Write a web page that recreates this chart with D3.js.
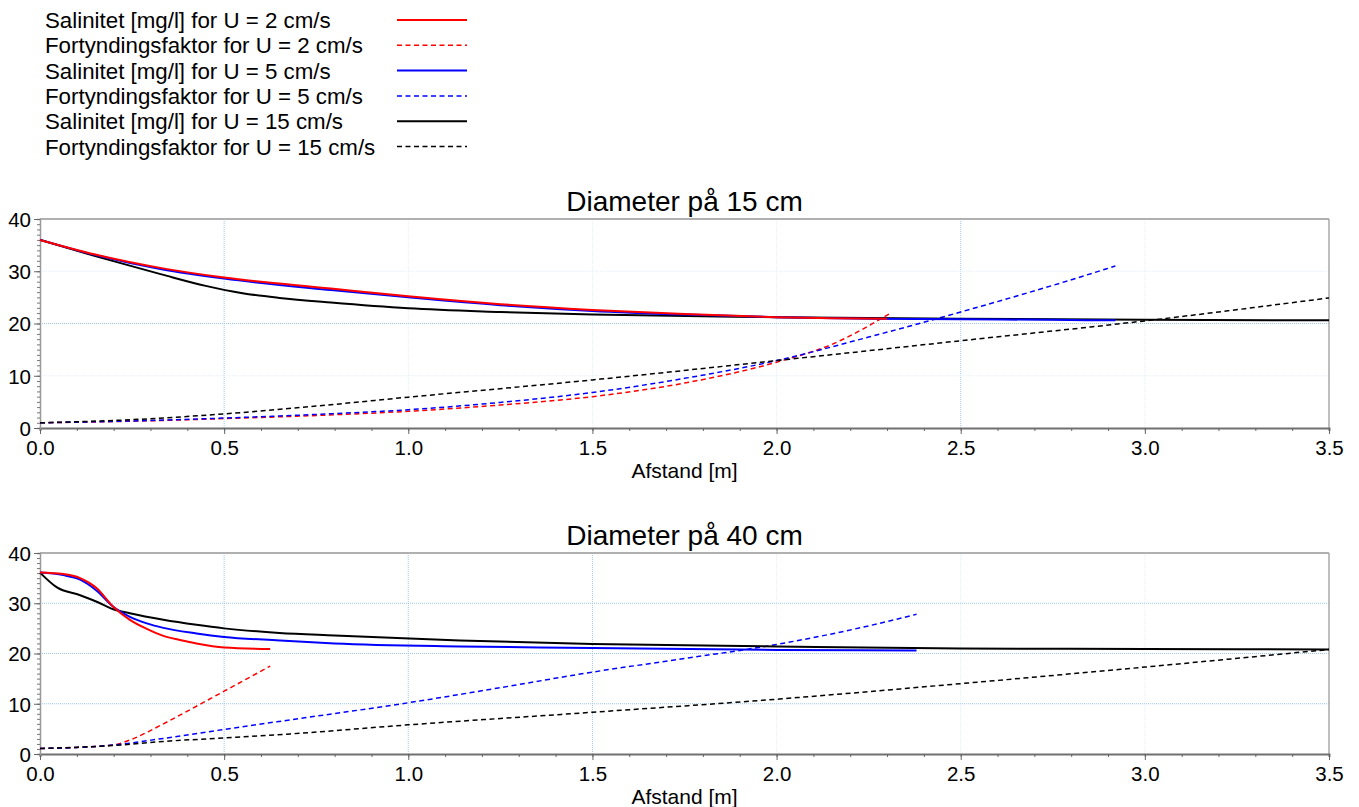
<!DOCTYPE html>
<meta charset="utf-8">
<style>
body{
	margin:0;
	background:#fff;
	font-family:"Liberation Sans",Arial,helvetica;
}
</style>
<script src="https://cdn.jsdelivr.net/npm/d3@7"></script>
<div id="chart"></div>
<script>

// legend labels
var legendLabels = ["Salinitet [mg/l] for U = 2 cm/s","Fortyndingsfaktor for U = 2 cm/s",
	"Salinitet [mg/l] for U = 5 cm/s","Fortyndingsfaktor for U = 5 cm/s",
	"Salinitet [mg/l] for U = 15 cm/s","Fortyndingsfaktor for U = 15 cm/s"]
var titles = ["Diameter på 15 cm","Diameter på 40 cm"]
var xTicks = [0,0.5,1,1.5,2,2.5,3,3.5]
var yTicks = [0,10,20,30,40]

// diameter 15 cm  [afstand, value]
var sal2_15 = [[0,36],[0.15,33.2],[0.33,30.6],[0.5,28.8],[0.79,26.7],[1.0,25.2],[1.25,23.7],[1.5,22.6],[1.75,21.8],[2.0,21.2],[2.15,21.0],[2.3,20.9]]
var fort2_15 = [[0,1.0],[0.25,1.3],[0.5,1.8],[0.75,2.4],[1.0,3.2],[1.25,4.4],[1.5,6.0],[1.75,8.6],[2.0,12.6],[2.15,16.0],[2.31,22.0]]
var sal5_15 = [[0,36],[0.15,33.1],[0.33,30.4],[0.5,28.6],[0.79,26.4],[1.0,25.0],[1.25,23.5],[1.5,22.4],[1.75,21.7],[2.0,21.2],[2.25,20.9],[2.5,20.8],[2.75,20.7],[2.92,20.6]]
var fort5_15 = [[0,1.0],[0.25,1.35],[0.5,1.9],[0.75,2.6],[1.0,3.5],[1.25,4.9],[1.5,6.8],[1.75,9.5],[2.0,12.9],[2.25,17.4],[2.5,22.2],[2.75,27.3],[2.92,31.0]]
var sal15_15 = [[0,36],[0.15,32.9],[0.33,29.4],[0.45,27.2],[0.55,25.8],[0.65,24.9],[0.79,24.0],[1.0,22.9],[1.25,22.2],[1.5,21.7],[2.0,21.2],[2.5,20.9],[3.0,20.7],[3.5,20.6]]
var fort15_15 = [[0,1.0],[0.25,1.6],[0.5,2.7],[0.75,4.2],[1.0,5.9],[1.5,9.2],[2.0,12.9],[2.5,16.7],[3.0,20.5],[3.5,24.9]]

// diameter 40 cm
var sal2_40 = [[0,36.1],[0.063,35.8],[0.109,35.0],[0.154,33.0],[0.199,29.3],[0.244,26.7],[0.29,24.9],[0.335,23.5],[0.38,22.7],[0.425,22.0],[0.5,21.2],[0.625,20.9]]
var fort2_40 = [[0,1.1],[0.1,1.3],[0.2,1.8],[0.245,2.8],[0.29,4.3],[0.335,6.0],[0.5,12.5],[0.625,17.5]]
var sal5_40 = [[0,36.1],[0.063,35.6],[0.109,34.7],[0.154,32.5],[0.199,29.3],[0.244,27.3],[0.29,26.0],[0.335,25.1],[0.425,24.0],[0.5,23.3],[0.65,22.6],[0.8,22.0],[1.14,21.4],[1.5,21.1],[2.0,20.7],[2.38,20.6]]
var fort5_40 = [[0,1.1],[0.1,1.3],[0.2,1.8],[0.335,3.1],[0.5,4.9],[0.68,6.8],[1.0,10.2],[1.25,13.2],[1.5,16.3],[1.75,19.0],[2.0,21.8],[2.25,25.5],[2.38,27.8]]
var sal15_40 = [[0,36.1],[0.045,33.2],[0.109,31.6],[0.154,30.3],[0.199,28.8],[0.244,28.0],[0.335,26.7],[0.425,25.7],[0.5,25.0],[0.65,24.1],[0.8,23.6],[1.14,22.6],[1.5,21.9],[2.0,21.4],[2.5,21.0],[3.0,20.9],[3.5,20.8]]
var fort15_40 = [[0,1.1],[0.2,1.7],[0.335,2.5],[0.5,3.2],[0.68,4.0],[1.0,5.8],[1.5,8.3],[2.0,10.9],[2.5,14.0],[3.0,17.3],[3.5,20.8]]

var colors = ["#ff0000","#ff0000","#0000ff","#0000ff","#000000","#000000"]
var dashed = [false,true,false,true,false,true]

var W = 1359, H = 807
var svg = d3.select("#chart").append("svg").attr("width",W).attr("height",H)

// legend
var leg = svg.append("g")
legendLabels.forEach(function(t,i){
	var y = 20 + i*25.3
	leg.append("text").attr("x",45).attr("y",y).attr("dy","0.36em")
		.style("font-size","22.3px").text(t)
	leg.append("line").attr("x1",397).attr("x2",467).attr("y1",y).attr("y2",y)
		.attr("stroke",colors[i]).attr("stroke-width",dashed[i]?1.5:2)
		.attr("stroke-dasharray",dashed[i]?"5,3.5":null)
})

function drawPanel(top,bottom,title,series,gridX,gridY){
	var x = d3.scaleLinear().domain([0,3.5]).range([40,1329])
	var y = d3.scaleLinear().domain([0,40]).range([bottom,top])
	var g = svg.append("g")

	// grid (faint on all majors, stronger on some)
	xTicks.slice(1,-1).forEach(function(v){
		var strong = gridX.indexOf(v)>=0
		g.append("line").attr("x1",x(v)).attr("x2",x(v)).attr("y1",top).attr("y2",bottom)
			.attr("stroke",strong?"#9cc8ee":"#e3effa").attr("stroke-dasharray","1,1")
	})
	yTicks.slice(1,-1).forEach(function(v){
		var strong = gridY.indexOf(v)>=0
		g.append("line").attr("x1",40).attr("x2",1329).attr("y1",y(v)).attr("y2",y(v))
			.attr("stroke",strong?"#9cc8ee":"#e3effa").attr("stroke-dasharray","1,1")
	})

	// frame
	g.append("line").attr("x1",40).attr("x2",1329).attr("y1",top).attr("y2",top).attr("stroke","#b0b0b0").attr("stroke-width",2)
	g.append("line").attr("x1",1329).attr("x2",1329).attr("y1",top).attr("y2",bottom).attr("stroke","#a8a8a8").attr("stroke-width",1.5)

	// x axis
	var xa = g.append("g").attr("transform","translate(0,"+bottom+")")
		.call(d3.axisBottom(x).tickValues(d3.range(0,3.501,0.1)).tickSize(3).tickFormat(""))
	xa.select(".domain").attr("stroke","#707070").attr("stroke-width",2)
	xa.selectAll(".tick line").attr("stroke","#666")
	var xb = g.append("g").attr("transform","translate(0,"+bottom+")")
		.call(d3.axisBottom(x).tickValues(xTicks).tickSize(6).tickPadding(6).tickFormat(d3.format(".1f")))
	xb.select(".domain").remove()
	xb.selectAll(".tick line").attr("stroke","#666")
	xb.selectAll("text").style("font-size","20.5px").style("font-family","Liberation Sans, Arial").attr("fill","#000")

	// y axis
	var ya = g.append("g").attr("transform","translate(40,0)")
		.call(d3.axisLeft(y).tickValues(d3.range(0,40.5,1)).tickSize(3).tickFormat(""))
	ya.select(".domain").attr("stroke","#999").attr("stroke-width",1.5)
	ya.selectAll(".tick line").attr("stroke","#777")
	var yb = g.append("g").attr("transform","translate(40,0)")
		.call(d3.axisLeft(y).tickValues(yTicks).tickSize(6).tickPadding(3))
	yb.select(".domain").remove()
	yb.selectAll(".tick line").attr("stroke","#666")
	yb.selectAll("text").style("font-size","20.5px").style("font-family","Liberation Sans, Arial").attr("fill","#000").attr("dy","0.36em")

	// title and axis label
	g.append("text").attr("x",684.5).attr("y",top-8).attr("text-anchor","middle")
		.style("font-size","28px").text(title)
	g.append("text").attr("x",684.5).attr("y",bottom+50).attr("text-anchor","middle")
		.style("font-size","21px").text("Afstand [m]")

	var line = d3.line().x(function(d){return x(d[0])}).y(function(d){return y(d[1])}).curve(d3.curveMonotoneX)
	// dashed first, solid on top
	var order = [1,3,5,4,2,0]
	order.forEach(function(i){
		g.append("path").datum(series[i]).attr("d",line).attr("fill","none")
			.attr("stroke",colors[i]).attr("stroke-width",dashed[i]?1.5:2)
			.attr("stroke-dasharray",dashed[i]?"5,3.5":null)
	})
}

drawPanel(219,428,titles[0],[sal2_15,fort2_15,sal5_15,fort5_15,sal15_15,fort15_15],[0.5,2.5],[20])
drawPanel(553,754,titles[1],[sal2_40,fort2_40,sal5_40,fort5_40,sal15_40,fort15_40],[0.5,1,1.5],[10,20,30])

</script>
